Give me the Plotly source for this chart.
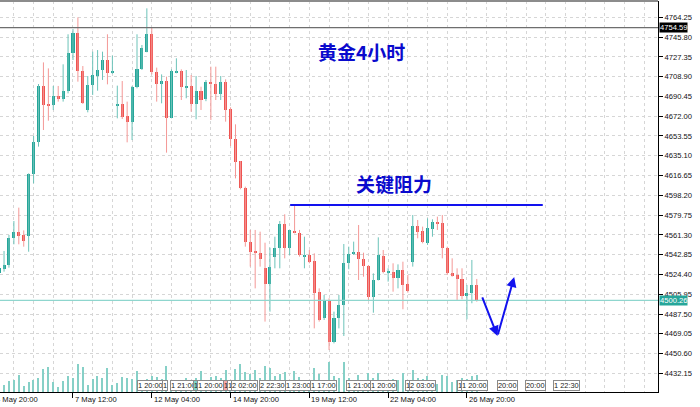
import plotly.graph_objects as go

# ---------------- data (4H gold candles, bar index 0 = 4 May 16:00) ----------------
opens = [4525.4, 4529.5, 4533.2, 4558.1, 4564.3, 4561.2, 4560.6, 4618.1, 4648.2, 4700.2,
         4683.4, 4682.4, 4690.8, 4687.7, 4695.8, 4730.6, 4749.3, 4714.2, 4677.8, 4701.1,
         4709.8, 4714.8, 4724.1, 4712.0, 4682.4, 4683.1, 4672.2, 4666.9, 4699.5, 4716.0,
         4732.2, 4748.7, 4713.5, 4702.3, 4704.8, 4670.6, 4712.6, 4714.2, 4698.9, 4700.2,
         4683.1, 4695.5, 4688.5, 4704.2, 4701.7, 4692.7, 4704.2, 4678.4, 4651.0, 4630.2,
         4605.3, 4555.0, 4546.3, 4544.1, 4530.1, 4515.2, 4540.9, 4549.4, 4571.1, 4549.4,
         4565.2, 4563.4, 4541.0, 4542.5, 4537.3, 4507.7, 4483.5, 4500.6, 4461.7, 4483.5,
         4495.9, 4534.8, 4543.5, 4545.6, 4538.8, 4532.3, 4503.7, 4519.2, 4541.9, 4526.4,
         4527.0, 4521.4, 4528.5, 4515.2, 4536.3, 4569.9, 4564.9, 4553.4, 4566.8, 4573.6,
         4572.1, 4549.4, 4525.4, 4523.9, 4520.2, 4504.3, 4506.8, 4514.6]
highs = [4531.6, 4546.3, 4561.2, 4574.2, 4586.7, 4565.5, 4618.7, 4653.5, 4702.0, 4722.2,
         4716.6, 4700.2, 4700.2, 4720.4, 4748.4, 4753.3, 4764.2, 4718.8, 4709.5, 4732.2,
         4733.7, 4732.2, 4748.4, 4728.5, 4700.5, 4704.8, 4685.6, 4700.2, 4748.4, 4738.4,
         4772.6, 4755.2, 4717.3, 4711.0, 4708.9, 4715.7, 4726.0, 4715.7, 4715.1, 4710.4,
         4709.5, 4699.5, 4705.8, 4718.2, 4718.2, 4709.5, 4706.4, 4680.3, 4664.4, 4630.2,
         4606.3, 4565.9, 4565.9, 4564.3, 4554.0, 4549.4, 4559.6, 4574.2, 4580.5, 4565.9,
         4589.2, 4565.9, 4559.6, 4547.2, 4544.1, 4511.4, 4505.2, 4502.1, 4489.7, 4505.2,
         4552.8, 4550.3, 4555.0, 4570.5, 4544.7, 4533.2, 4525.4, 4559.0, 4547.2, 4530.1,
         4534.8, 4533.8, 4536.3, 4523.9, 4579.8, 4575.2, 4569.0, 4576.7, 4575.8, 4578.3,
         4579.8, 4550.3, 4539.4, 4530.1, 4530.1, 4514.6, 4537.9, 4520.2]
lows = [4523.9, 4527.0, 4530.7, 4552.5, 4552.5, 4550.3, 4545.6, 4609.4, 4643.6, 4659.1,
        4667.8, 4677.8, 4685.6, 4685.6, 4693.3, 4724.4, 4704.2, 4683.4, 4675.6, 4691.8,
        4695.8, 4705.8, 4701.7, 4711.5, 4670.0, 4669.4, 4647.6, 4649.8, 4698.0, 4715.1,
        4731.6, 4711.0, 4685.6, 4684.0, 4638.0, 4670.0, 4712.0, 4687.1, 4688.7, 4676.2,
        4669.1, 4677.8, 4686.0, 4668.5, 4687.1, 4687.1, 4666.9, 4644.2, 4614.0, 4603.8,
        4550.3, 4531.7, 4511.4, 4531.7, 4480.4, 4489.7, 4530.1, 4530.1, 4539.4, 4542.5,
        4562.7, 4541.0, 4530.1, 4534.8, 4474.1, 4480.4, 4481.9, 4453.9, 4460.1, 4474.1,
        4467.0, 4529.2, 4542.5, 4519.2, 4522.3, 4500.6, 4488.7, 4518.8, 4525.4, 4517.7,
        4508.3, 4511.4, 4491.9, 4507.4, 4531.7, 4558.1, 4553.4, 4551.9, 4559.6, 4565.9,
        4539.4, 4523.9, 4522.3, 4500.6, 4501.2, 4482.5, 4497.5, 4499.0]
closes = [4530.1, 4533.2, 4558.1, 4564.3, 4560.6, 4555.6, 4618.1, 4648.2, 4700.2, 4682.4,
          4682.4, 4690.8, 4687.7, 4695.8, 4730.6, 4749.3, 4714.2, 4684.6, 4701.1, 4710.4,
          4714.8, 4724.1, 4712.0, 4714.2, 4683.1, 4671.6, 4666.9, 4699.5, 4716.0, 4735.3,
          4748.7, 4713.5, 4702.3, 4704.8, 4670.6, 4714.2, 4714.2, 4699.5, 4700.2, 4683.1,
          4695.5, 4687.1, 4704.2, 4701.7, 4692.7, 4704.2, 4677.8, 4650.4, 4629.6, 4605.3,
          4555.0, 4545.6, 4544.7, 4538.5, 4515.2, 4531.7, 4549.4, 4571.1, 4549.4, 4565.9,
          4563.4, 4542.5, 4542.5, 4536.3, 4507.4, 4481.9, 4500.6, 4461.7, 4483.5, 4495.9,
          4534.8, 4543.5, 4545.6, 4538.5, 4532.3, 4503.7, 4519.2, 4542.5, 4527.0, 4527.6,
          4521.4, 4528.5, 4514.6, 4509.0, 4569.6, 4564.3, 4555.0, 4567.4, 4573.6, 4571.1,
          4548.8, 4525.4, 4523.3, 4520.2, 4504.3, 4506.8, 4514.6, 4500.26]
volumes = [35000, 36500, 56500, 61500, 83500, 28500, 48500, 61500, 70000, 116500,
           125000, 48500, 26500, 56500, 81500, 70000, 141500, 125000, 36500, 66500,
           78500, 70000, 120000, 36500, 45000, 75000, 70000, 65000, 103500, 50000,
           65000, 78500, 73500, 66500, 131500, 60000, 50000, 61500, 70000, 45000,
           70000, 103500, 40000, 73500, 81500, 70000, 108500, 50000, 116500, 141500,
           100000, 90000, 110000, 70000, 130000, 120000, 80000, 90000, 100000, 60000,
           105000, 75000, 50000, 55000, 120000, 90000, 60000, 150000, 80000, 70000,
           150000, 70000, 50000, 85000, 60000, 95000, 70000, 95000, 60000, 45000,
           65000, 60000, 95000, 50000, 110000, 70000, 65000, 80000, 60000, 40000,
           85000, 80000, 50000, 60000, 70000, 65000, 80000, 85000]

# x-axis time labels (bar index, text)
time_label_idx = [-1, 15, 31, 47, 63, 79, 95]
time_label_txt = ["4 May 20:00", "7 May 12:00", "12 May 04:00", "14 May 20:00",
                  "19 May 12:00", "22 May 04:00", "26 May 20:00"]

# right price axis ticks
price_ticks = [4432.15, 4450.60, 4469.05, 4487.50, 4505.95, 4524.40, 4542.85, 4561.30,
               4579.75, 4598.20, 4616.65, 4635.10, 4653.55, 4672.00, 4690.45, 4708.90,
               4727.35, 4745.80, 4764.25]

high_line = 4754.59
bid_price = 4500.26
resistance = 4589.2
resistance_from, resistance_to = 59.1, 110.4
forecast_path = [(98.0, 4504.3), (101.2, 4467.0), (104.6, 4522.0)]

# economic-calendar event markers along the bottom (bar index, text)
event_idx = [28.0, 33.1, 34.7, 39.4, 40.2, 45.5, 46.3, 47.1, 52.7, 58.0, 63.1, 70.4,
             75.3, 82.4, 83.2, 93.0, 93.8, 101.1, 106.8, 112.5]
event_txt = ["1 20:00", "1", "1 21:00", "1", "1 20:00", "1", "1", "2 02:00", "2 22:30",
             "1 23:00", "1 17:00", "1 21:00", "1 20:00", "1", "2 03:00", "1", "1 20:00",
             "20:00", "20:00", "1 22:30"]
event_bg = {3: "#7fd3c9", 5: "#f7a8a8"}

# ---------------- styles ----------------
UP, DOWN = "#26a69a", "#ef5350"
UP_WICK, DOWN_WICK = "#6cc3b9", "#f49896"
GRID = "#d6d6d6"
BLUE = "#1212ee"
FONT = "Liberation Sans"
W, H = 700, 407
M = dict(l=0, r=42, t=1, b=15)
X_RANGE = [0.18, 133.8]

n = len(opens)
idx = list(range(n))
is_up = [c >= o for o, c in zip(opens, closes)]

fig = go.Figure()

# volume (secondary axis)
fig.add_trace(go.Bar(x=idx, y=volumes, yaxis="y2", width=0.25,
                     marker=dict(color="#86d0c7", line=dict(width=0)), hoverinfo="skip"))

# wicks
for flag, col in ((True, UP_WICK), (False, DOWN_WICK)):
    wx, wy = [], []
    for i in idx:
        if is_up[i] == flag:
            wx += [i, i, None]
            wy += [lows[i], highs[i], None]
    fig.add_trace(go.Scatter(x=wx, y=wy, mode="lines", line=dict(color=col, width=1),
                             hoverinfo="skip"))

# bodies
base = [min(o, c) for o, c in zip(opens, closes)]
height = [max(abs(c - o), 0.9) for o, c in zip(opens, closes)]
fig.add_trace(go.Bar(x=idx, y=height, base=base, width=0.62,
                     marker=dict(color=[UP if u else DOWN for u in is_up], line=dict(width=0)),
                     hoverinfo="skip"))

# resistance line
fig.add_trace(go.Scatter(x=[resistance_from, resistance_to], y=[resistance, resistance],
                         mode="lines", line=dict(color=BLUE, width=2), hoverinfo="skip"))

shapes = [
    dict(type="line", xref="paper", x0=0, x1=1, yref="y", y0=high_line, y1=high_line,
         line=dict(color="#6e6e6e", width=1.3)),
    dict(type="line", xref="paper", x0=0, x1=1, yref="y", y0=bid_price, y1=bid_price,
         line=dict(color="#8fd6ce", width=1.3)),
    dict(type="line", xref="paper", x0=0, x1=1, yref="paper", y0=1, y1=1,
         line=dict(color="#8c8c8c", width=2)),
]

px_per_bar = (W - M["l"] - M["r"]) / (X_RANGE[1] - X_RANGE[0])

annotations = []
# x time labels (a label whose bar lies left of the view is pinned to the edge and shifted)
for i, t in zip(time_label_idx, time_label_txt):
    xa = max(i, X_RANGE[0])
    annotations.append(dict(x=xa, y=0, xref="x", yref="paper", text=t, showarrow=False,
                            xanchor="left", yanchor="top", yshift=-1,
                            xshift=(i - xa) * px_per_bar,
                            font=dict(family=FONT, size=7.6, color="#111")))
# event markers
for k, (i, t) in enumerate(zip(event_idx, event_txt)):
    annotations.append(dict(x=i, y=0, xref="x", yref="paper", text=t, showarrow=False,
                            xanchor="left", yanchor="bottom", yshift=1,
                            bgcolor=event_bg.get(k, "white"), bordercolor="#8a8a8a",
                            borderwidth=1, borderpad=0,
                            font=dict(family=FONT, size=7.4, color="#222")))
# price boxes on the axis
annotations.append(dict(x=1, y=high_line, xref="paper", yref="y", text="4754.59",
                        showarrow=False, xanchor="left", xshift=1, bgcolor="#000000",
                        borderpad=0, font=dict(family=FONT, size=7.6, color="white")))
annotations.append(dict(x=1, y=bid_price, xref="paper", yref="y", text="4500.26",
                        showarrow=False, xanchor="left", xshift=1, bgcolor="#26a69a",
                        borderpad=0, font=dict(family=FONT, size=7.6, color="white")))
# titles
annotations.append(dict(x=73.5, y=4732.8, xref="x", yref="y", text="<b>黄金4小时</b>",
                        showarrow=False,
                        font=dict(family="Noto Sans CJK SC", size=19, color="#0a0acd")))
annotations.append(dict(x=80.2, y=4609.2, xref="x", yref="y", text="<b>关键阻力</b>",
                        showarrow=False,
                        font=dict(family="Noto Sans CJK SC", size=19, color="#0a0acd")))
# forecast arrows
for (x0, y0), (x1, y1) in zip(forecast_path[:-1], forecast_path[1:]):
    annotations.append(dict(x=x1, y=y1, ax=x0, ay=y0, xref="x", yref="y", axref="x",
                            ayref="y", text="", showarrow=True, arrowhead=2, arrowsize=1,
                            arrowwidth=2, arrowcolor=BLUE))

fig.update_layout(
    width=W, height=H,
    margin=M,
    paper_bgcolor="white", plot_bgcolor="white",
    showlegend=False, barmode="overlay", bargap=0,
    shapes=shapes, annotations=annotations,
    xaxis=dict(range=X_RANGE, tickvals=time_label_idx[1:], showticklabels=False,
               ticks="outside", ticklen=5, tickcolor="black", showline=True,
               linecolor="black", linewidth=1, showgrid=True, gridcolor=GRID,
               griddash="dot", zeroline=False,
               minor=dict(dtick=4, tick0=3, showgrid=True, gridcolor=GRID,
                          griddash="dot", ticks="")),
    yaxis=dict(range=[4414.74, 4779.45], side="right", tickvals=price_ticks,
               ticktext=[f"{p:.2f}" for p in price_ticks], ticks="outside", ticklen=4,
               tickcolor="black", showline=True, linecolor="black", linewidth=1,
               showgrid=True, gridcolor=GRID, griddash="dot", zeroline=False,
               tickfont=dict(family=FONT, size=7.6, color="#111")),
    yaxis2=dict(overlaying="y", range=[0, 1955000], visible=False),
)

fig.write_html("out.html", config={"displayModeBar": False},
               post_script="document.body.style.margin='0px';document.body.style.padding='0px';")
